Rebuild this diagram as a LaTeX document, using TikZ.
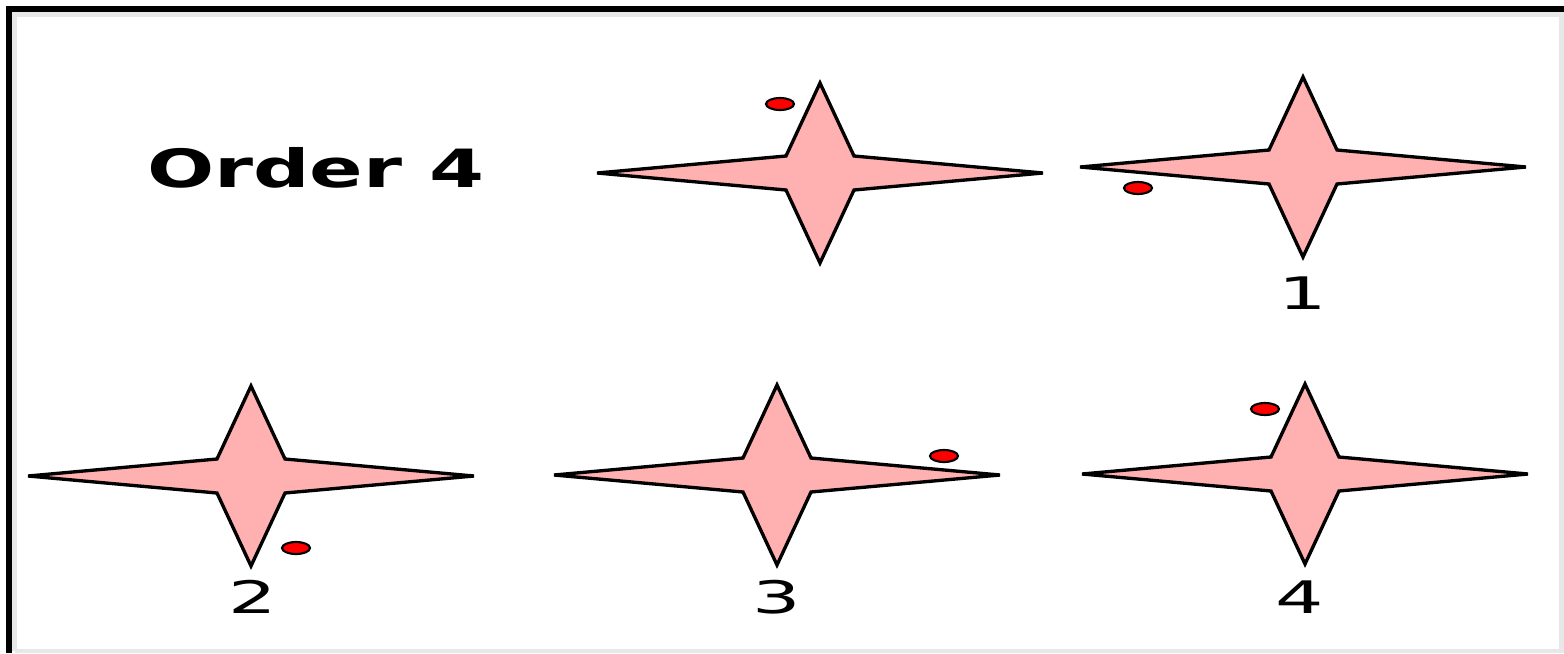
\documentclass[tikz,border=0pt]{standalone}
\usepackage{fontspec}
\setmainfont{DejaVu Sans}
\usetikzlibrary{positioning}
\definecolor{starpink}{RGB}{255,176,176}
\definecolor{edgegrey}{RGB}{232,232,232}
\tikzset{
  % Star figures
  starshape/.style = { draw=black, line width=1.9pt, fill=starpink, line join=miter },
  dotmark/.style   = { draw=black, line width=1.2pt, fill=red },
  numlabel/.style  = { font=\fontsize{25.5}{30}\selectfont, xscale=1.7, inner sep=0, anchor=base },
  titlelabel/.style= { font=\fontsize{30}{36}\selectfont\bfseries, xscale=1.5, inner sep=0, anchor=base },
  % Frame
  frameline/.style = { line width=3.4pt },
  frameedge/.style = { edgegrey, line width=2.6pt }
}

\begin{document}
\begin{tikzpicture}[x=0.02cm, y=-0.02cm]
  \useasboundingbox (0,0) rectangle (1564,653);

  % --- frame -------------------------------------------------------
  \draw[frameedge] (14.5,651) -- (14.5,14.5) -- (1564,14.5);
  \draw[frameedge] (1561.5,14.5) -- (1561.5,651) -- (14.5,651);
  \draw[frameline] (9,653) -- (9,9) -- (1564,9);

  \node[titlelabel] (title) at (316,187) {Order 4};

  % --- stars: name / centre x / centre y -----------------------------
  \foreach \n/\cx/\cy in {s0/820/173, s1/1303/167, s2/251/476, s3/777/475, s4/1305/474} {
    \coordinate (\n) at (\cx,\cy);
    \draw[starshape, shift={(\n)}]
      (-223,0) -- (-34,-17) -- (0,-90) -- (34,-17) -- (223,0)
      -- (34,17) -- (0,90) -- (-34,17) -- cycle;
  }

  % position markers
  \foreach \n/\dx/\dy in {d0/780/104, d1/1138/188, d2/296/548, d3/944/456, d4/1265/409}
    \draw[dotmark] (\dx,\dy) coordinate (\n) ellipse [x radius=14, y radius=6];

  % step numbers
  \node[numlabel] (lab1) at (1303,309) {1};
  \node[numlabel] (lab2) at (253,613) {2};
  \node[numlabel] (lab3) at (777,613) {3};
  \node[numlabel] (lab4) at (1300,613) {4};

\end{tikzpicture}
\end{document}
